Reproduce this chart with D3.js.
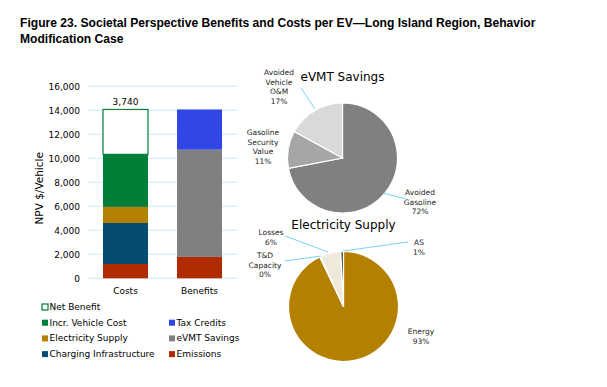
<!DOCTYPE html>
<html>
<head>
<meta charset="utf-8">
<script src="https://cdn.jsdelivr.net/npm/d3@7"></script>
<style>
  body { margin: 0; background: #fff; }
  svg { display: block; }
</style>
</head>
<body>
<svg id="chart" width="607" height="387"></svg>
<script>
// bar data ($/vehicle), stacked bottom to top
const barCategories = ["Costs", "Benefits"];
const costSeries = ["Emissions", "Charging Infrastructure", "Electricity Supply", "Incr. Vehicle Cost", "Net Benefit"];
const costValues = [1190, 3420, 1340, 4380, 3740];
const benefitSeries = ["Emissions", "eVMT Savings", "Tax Credits"];
const benefitValues = [1780, 8940, 3350];
const yTicks = [0, 2000, 4000, 6000, 8000, 10000, 12000, 14000, 16000];

// pies
const evmtLabels = ["Avoided Gasoline", "Gasoline Security Value", "Avoided Vehicle O&M"];
const evmtValues = [72, 11, 17];
const elecLabels = ["Energy", "T&D Capacity", "Losses", "AS"];
const elecValues = [92.9, 0.3, 6.0, 0.8];

const colors = {
  "Emissions": "#b22a00",
  "Charging Infrastructure": "#044d70",
  "Electricity Supply": "#b48000",
  "Incr. Vehicle Cost": "#007f39",
  "Net Benefit": "#ffffff",
  "Tax Credits": "#3047e6",
  "eVMT Savings": "#808080"
};
const evmtColors = ["#808080", "#a6a6a6", "#d9d9d9"];
const elecColors = ["#b48000", "#7a6a45", "#efe9d9", "#4d4535"];

const svg = d3.select("#chart");
const sans = "'DejaVu Sans', Verdana, sans-serif";

// Title
const title = svg.append("text")
  .attr("font-family", "'Liberation Sans', Arial, sans-serif")
  .attr("font-weight", "bold").attr("font-size", 12.1).attr("fill", "#000");
title.append("tspan").attr("x", 20).attr("y", 27)
  .text("Figure 23. Societal Perspective Benefits and Costs per EV\u2014Long Island Region, Behavior");
title.append("tspan").attr("x", 20).attr("y", 43).text("Modification Case");

// Bar chart
const y = d3.scaleLinear().domain([0, 16000]).range([278.3, 86.3]);
const x = d3.scaleBand().domain(barCategories).range([88.2, 236.8]).paddingInner(0.392).paddingOuter(0.2);

const grid = svg.append("g");
grid.selectAll("line").data(yTicks).join("line")
  .attr("x1", 88).attr("x2", 237)
  .attr("y1", d => y(d)).attr("y2", d => y(d))
  .attr("stroke", "#c9ecfb").attr("stroke-width", 1);

const yAxis = d3.axisLeft(y).tickValues(yTicks).tickSize(0).tickPadding(0)
  .tickFormat(d3.format(","));
svg.append("g").attr("transform", "translate(80,0)").call(yAxis)
  .call(g => g.select(".domain").remove())
  .call(g => g.selectAll("text").attr("font-family", sans).attr("font-size", 9).attr("fill", "#000"));

svg.append("text")
  .attr("transform", "translate(40," + y(7500) + ") rotate(-90)")
  .attr("text-anchor", "middle").attr("dominant-baseline", "middle")
  .attr("font-family", sans).attr("font-size", 10.5).text("NPV $/Vehicle");

function stackBar(cat, names, vals) {
  let acc = 0;
  const segs = names.map((n, i) => {
    const s = { name: n, y0: acc, y1: acc + vals[i] };
    acc += vals[i];
    return s;
  });
  svg.append("g").selectAll("rect").data(segs).join("rect")
    .attr("x", x(cat)).attr("width", x.bandwidth())
    .attr("y", d => y(d.y1)).attr("height", d => y(d.y0) - y(d.y1))
    .attr("fill", d => colors[d.name])
    .attr("stroke", d => d.name === "Net Benefit" ? "#007f39" : "none")
    .attr("stroke-width", 1.2);
  return segs;
}
const costSegs = stackBar("Costs", costSeries, costValues);
stackBar("Benefits", benefitSeries, benefitValues);

const net = costSegs[costSegs.length - 1];
svg.append("text")
  .attr("x", x("Costs") + x.bandwidth() / 2).attr("y", y(net.y1) - 4)
  .attr("text-anchor", "middle").attr("font-family", sans).attr("font-size", 9)
  .text(d3.format(",")(costValues[costValues.length - 1]));

svg.append("g").selectAll("text").data(barCategories).join("text")
  .attr("x", d => x(d) + x.bandwidth() / 2).attr("y", 294)
  .attr("text-anchor", "middle").attr("font-family", sans).attr("font-size", 9)
  .text(d => d);

// Legend
const legendItems = [
  { name: "Net Benefit", col: 0, row: 0 },
  { name: "Incr. Vehicle Cost", col: 0, row: 1 },
  { name: "Electricity Supply", col: 0, row: 2 },
  { name: "Charging Infrastructure", col: 0, row: 3 },
  { name: "Tax Credits", col: 1, row: 1 },
  { name: "eVMT Savings", col: 1, row: 2 },
  { name: "Emissions", col: 1, row: 3 }
];
const lg = svg.append("g").selectAll("g").data(legendItems).join("g")
  .attr("transform", d => "translate(" + (d.col ? 169 : 42) + "," + (307 + d.row * 15.7) + ")");
lg.append("rect").attr("x", 0).attr("y", -3).attr("width", 6).attr("height", 6)
  .attr("fill", d => colors[d.name])
  .attr("stroke", d => d.name === "Net Benefit" ? "#007f39" : "none").attr("stroke-width", 1.2);
lg.append("text").attr("x", 7.5).attr("y", 0).attr("dominant-baseline", "central")
  .attr("font-family", sans).attr("font-size", 9).text(d => d.name);

// Pies
const pie = d3.pie().sort(null).value(d => d);
const arc = d3.arc().innerRadius(0).outerRadius(55);

function drawPie(cx, cy, vals, cols, titleText, titleY) {
  const g = svg.append("g").attr("transform", "translate(" + cx + "," + cy + ")");
  g.selectAll("path").data(pie(vals)).join("path")
    .attr("d", arc).attr("fill", (d, i) => cols[i])
    .attr("stroke", "#fff").attr("stroke-width", 1.2);
  svg.append("text").attr("x", cx).attr("y", titleY).attr("text-anchor", "middle")
    .attr("font-family", sans).attr("font-size", 12).text(titleText);
  return pie(vals);
}
const total = a => d3.sum(a);
const pct = (v, a) => Math.round(v / total(a) * 100) + "%";

drawPie(342.5, 158, evmtValues, evmtColors, "eVMT Savings", 81);
drawPie(343.5, 306.5, elecValues, elecColors, "Electricity Supply", 229);

function pieLabel(lines, lx, ly, anchor) {
  const t = svg.append("text").attr("text-anchor", anchor)
    .attr("font-family", sans).attr("font-size", 7.5).attr("fill", "#222");
  lines.forEach((s, i) => t.append("tspan").attr("x", lx).attr("y", ly + i * 9.5).text(s));
}
function leader(x1, y1, x2, y2) {
  svg.append("line").attr("x1", x1).attr("y1", y1).attr("x2", x2).attr("y2", y2)
    .attr("stroke", "#55c8f0").attr("stroke-width", 0.8);
}

// eVMT labels
leader(301, 88, 315, 109);
pieLabel(["Avoided", "Vehicle", "O&M", pct(evmtValues[2], evmtValues)], 279, 75, "middle");
pieLabel(["Gasoline", "Security", "Value", pct(evmtValues[1], evmtValues)], 263, 135, "middle");
leader(383, 193, 406, 199);
pieLabel(["Avoided", "Gasoline", pct(evmtValues[0], evmtValues)], 420, 195, "middle");

// Electricity labels
leader(285, 236, 328, 252);
pieLabel(["Losses", pct(elecValues[2], elecValues)], 271, 235, "middle");
leader(285, 261, 321, 256);
pieLabel(["T&D", "Capacity", pct(elecValues[1], elecValues)], 265, 258, "middle");
leader(343, 251, 408, 242);
pieLabel(["AS", pct(elecValues[3], elecValues)], 419, 245, "middle");
pieLabel(["Energy", pct(elecValues[0], elecValues)], 421, 334, "middle");
</script>
</body>
</html>
